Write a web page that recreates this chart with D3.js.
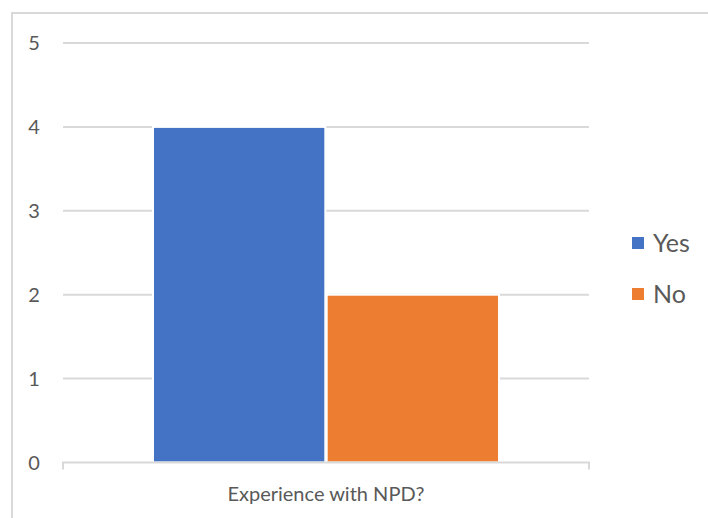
<!DOCTYPE html>
<html>
<head>
<meta charset="utf-8">
<script src="https://cdn.jsdelivr.net/npm/d3@7"></script>
<style>
  html, body { margin: 0; padding: 0; background: #fff; }
  svg { display: block; }
  text { font-family: Lato, "Open Sans", sans-serif; fill: #595959; }
</style>
</head>
<body>
<svg id="chart" width="708" height="518"></svg>
<script>
// Survey answers
const category = "Experience with NPD?";
const seriesNames = ["Yes", "No"];
const seriesValues = [4, 2];
const seriesColors = ["#4472C4", "#ED7D31"];
const yTicks = [0, 1, 2, 3, 4, 5];

const svg = d3.select("#chart");
const W = 708, H = 518;

// chart frame
svg.append("rect")
  .attr("x", 12).attr("y", 13)
  .attr("width", W + 10).attr("height", H + 10)
  .attr("fill", "none").attr("stroke", "#d9d9d9").attr("stroke-width", 2);

const plot = { left: 63, right: 589, top: 43, bottom: 462.5 };

const y = d3.scaleLinear().domain([0, 5]).range([plot.bottom, plot.top]);
const x0 = d3.scaleBand().domain([category]).range([plot.left, plot.right]).paddingInner(0).paddingOuter(0.26);
const x1 = d3.scaleBand().domain(seriesNames).range([0, x0.bandwidth()]).paddingInner(0.008).paddingOuter(0);

// gridlines
svg.append("g")
  .selectAll("line")
  .data(yTicks.filter(t => t > 0))
  .join("line")
  .attr("x1", plot.left).attr("x2", plot.right)
  .attr("y1", d => y(d)).attr("y2", d => y(d))
  .attr("stroke", "#d9d9d9").attr("stroke-width", 2);

// y tick labels
svg.append("g")
  .selectAll("text")
  .data(yTicks)
  .join("text")
  .attr("x", 34).attr("y", d => y(d))
  .attr("dy", "0.36em")
  .attr("text-anchor", "middle")
  .style("font-size", "20px")
  .text(d => d);

// bars
const bars = svg.append("g").attr("transform", `translate(${x0(category)},0)`);
bars.selectAll("rect")
  .data(seriesNames.map((n, i) => ({ name: n, value: seriesValues[i], color: seriesColors[i] })))
  .join("rect")
  .attr("x", d => x1(d.name))
  .attr("width", x1.bandwidth())
  .attr("y", d => y(d.value))
  .attr("height", d => y(0) - y(d.value))
  .attr("fill", d => d.color)
  .attr("stroke", "#fff")
  .attr("stroke-width", 2);

// category axis
const xAxis = svg.append("g");
xAxis.append("path")
  .attr("d", `M${plot.left},${plot.bottom + 7}V${plot.bottom}H${plot.right}V${plot.bottom + 7}`)
  .attr("fill", "none").attr("stroke", "#d9d9d9").attr("stroke-width", 2);
xAxis.append("text")
  .attr("x", (plot.left + plot.right) / 2).attr("y", 494)
  .attr("dy", "0.36em")
  .attr("text-anchor", "middle")
  .style("font-size", "20px")
  .text(category);

// legend
const legend = svg.append("g");
const items = legend.selectAll("g")
  .data(seriesNames)
  .join("g")
  .attr("transform", (d, i) => `translate(632,${243 + i * 51})`);
items.append("rect")
  .attr("x", 0).attr("y", -6).attr("width", 12).attr("height", 12)
  .attr("fill", (d, i) => seriesColors[i]);
items.append("text")
  .attr("x", 21).attr("y", 0).attr("dy", "0.36em")
  .style("font-size", "25px")
  .text(d => d);
</script>
</body>
</html>
